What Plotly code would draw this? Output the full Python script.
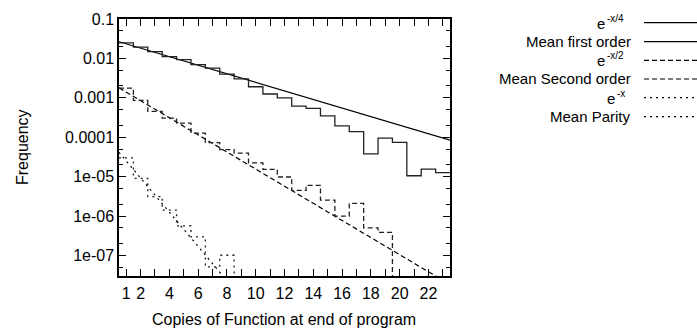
import math
import plotly.graph_objects as go

# ---------------- data ----------------
copies = list(range(1, 24))

mean_first = [0.0248, 0.0194, 0.0149, 0.0111, 0.0093, 0.00695, 0.00566, 0.00398,
              0.00301, 0.00191, 0.00125, 0.00100, 0.000617, 0.000536, 0.000349,
              0.000194, 0.000139, 3.77e-5, 9.46e-5, 7.4e-5, 1.05e-5, 1.54e-5, 1.26e-5]

mean_second = [0.00177, 0.000857, 0.00045, 0.000305, 0.000228, 0.000127, 7.3e-5,
               4.85e-5, 3.92e-5, 2.22e-5, 1.53e-5, 9.77e-6, 4.48e-6, 6.01e-6,
               2.54e-6, 9.94e-7, 2.09e-6, 5.01e-7, 3.82e-7, 0, 0, 0, 0]

mean_parity = [2.98e-5, 9.06e-6, 3.12e-6, 1.41e-6, 5.6e-7, 2.95e-7, 5.1e-8, 1.01e-7,
               0, 0, 0, 0, 0, 0, 0, 0, 0, 0, 0, 0, 0, 0, 0]

# exponential reference curves A * exp(-rate * x)
fit_amps = [0.030, 0.0023, 6.8e-5]
fit_rates = [1 / 4, 1 / 2, 1.0]
fit_exponents = ["-x/4", "-x/2", "-x"]
mean_labels = ["Mean first order", "Mean Second order", "Mean Parity"]

x_tick_vals = [1, 2, 4, 6, 8, 10, 12, 14, 16, 18, 20, 22]
y_tick_vals = [1e-7, 1e-6, 1e-5, 1e-4, 1e-3, 1e-2, 1e-1]
y_tick_text = ["1e-07", "1e-06", "1e-05", "0.0001", "0.001", "0.01", "0.1"]

X_RANGE = [0.5, 23.5]
Y_MIN, Y_MAX = 3e-8, 0.1

# ---------------- styling ----------------
W, H = 697, 331
ML, MR, MT, MB = 119, 247, 19, 55
FONT = "Liberation Sans, Arial, Helvetica, sans-serif"
FS = 16
KEY_FS = 15
SUP_FS = 10
styles = ["solid", "5px,3px", "2px,4px"]
LC = "#000000"


def px_to_paper(px, py):
    return (px - ML) / (W - ML - MR), (H - MB - py) / (H - MT - MB)


def histeps(xc, yv):
    floor = Y_MIN / 100
    xs = [x - 0.5 for x in xc] + [xc[-1] + 0.5]
    ys = [v if v > 0 else floor for v in yv]
    ys = ys + [ys[-1]]
    return xs, ys


def txt(px, py, text, size=FS, xanchor="right", angle=0):
    x, y = px_to_paper(px, py)
    fig.add_annotation(x=x, y=y, xref="paper", yref="paper", text=text,
                       showarrow=False, xanchor=xanchor, yanchor="middle",
                       textangle=angle, borderpad=0,
                       font=dict(family=FONT, size=size, color="black"))


fig = go.Figure()

series = [mean_first, mean_second, mean_parity]
for i in range(3):
    n = 200
    xs = [X_RANGE[0] + (X_RANGE[1] - X_RANGE[0]) * k / (n - 1) for k in range(n)]
    ys = [fit_amps[i] * math.exp(-fit_rates[i] * x) for x in xs]
    fig.add_trace(go.Scatter(x=xs, y=ys, mode="lines",
                             line=dict(color=LC, width=1.2, dash=styles[i]),
                             showlegend=False, hoverinfo="skip"))
    hx, hy = histeps(copies, series[i])
    fig.add_trace(go.Scatter(x=hx, y=hy, mode="lines", line_shape="hv",
                             line=dict(color="#222222", width=1.3, dash=styles[i]),
                             showlegend=False))

# gnuplot-style key: right-aligned text, line sample on the right
row_y = [22.7, 41.7, 60.3, 79.0, 97.7, 116.7]
e_right = [606, 606, 616]          # where the base "e" ends for each fit row
for k in range(3):
    ry_fit = row_y[2 * k]
    ry_mean = row_y[2 * k + 1]
    txt(e_right[k], ry_fit + 0.5, "e", size=KEY_FS)
    txt(e_right[k], ry_fit - 4.5, fit_exponents[k], size=SUP_FS, xanchor="left")
    txt(632, ry_mean, mean_labels[k], size=KEY_FS)
    for ry in (ry_fit, ry_mean):
        x0, y0 = px_to_paper(644, ry)
        x1, _ = px_to_paper(697, ry)
        fig.add_shape(type="line", xref="paper", yref="paper", x0=x0, x1=x1,
                      y0=y0, y1=y0,
                      line=dict(color=LC, width=1.2, dash=styles[k]))

# axis titles
txt(284, 319, "Copies of Function at end of program", xanchor="center")
txt(22, 147, "Frequency", xanchor="center", angle=-90)

fig.update_layout(
    width=W, height=H,
    margin=dict(l=ML, r=MR, t=MT, b=MB, pad=0),
    paper_bgcolor="white", plot_bgcolor="white",
    font=dict(family=FONT, size=FS, color="black"),
    showlegend=False,
    xaxis=dict(range=X_RANGE, tickmode="array", tickvals=x_tick_vals,
               ticks="inside", ticklen=7, tickwidth=1, tickcolor="black",
               showline=True, linecolor="black", linewidth=1.5, mirror="ticks",
               showgrid=False, zeroline=False, ticklabelstandoff=2,
               minor=dict(tickmode="linear", tick0=0, dtick=1, ticks="inside",
                          ticklen=7, tickcolor="black", showgrid=False)),
    yaxis=dict(type="log", range=[math.log10(Y_MIN), math.log10(Y_MAX)],
               tickmode="array", tickvals=y_tick_vals, ticktext=y_tick_text,
               ticks="inside", ticklen=7, tickwidth=1, tickcolor="black",
               showline=True, linecolor="black", linewidth=1.5, mirror="ticks",
               showgrid=False, zeroline=False, ticklabelstandoff=0,
               minor=dict(tickmode="array",
                          tickvals=[m * 10 ** e for e in range(-8, -1) for m in (2, 5)],
                          ticks="inside", ticklen=4, tickcolor="black", showgrid=False)),
)

fig.write_html("out.html", config={"displayModeBar": False},
               post_script="document.body.style.margin='0';document.body.style.padding='0';")
